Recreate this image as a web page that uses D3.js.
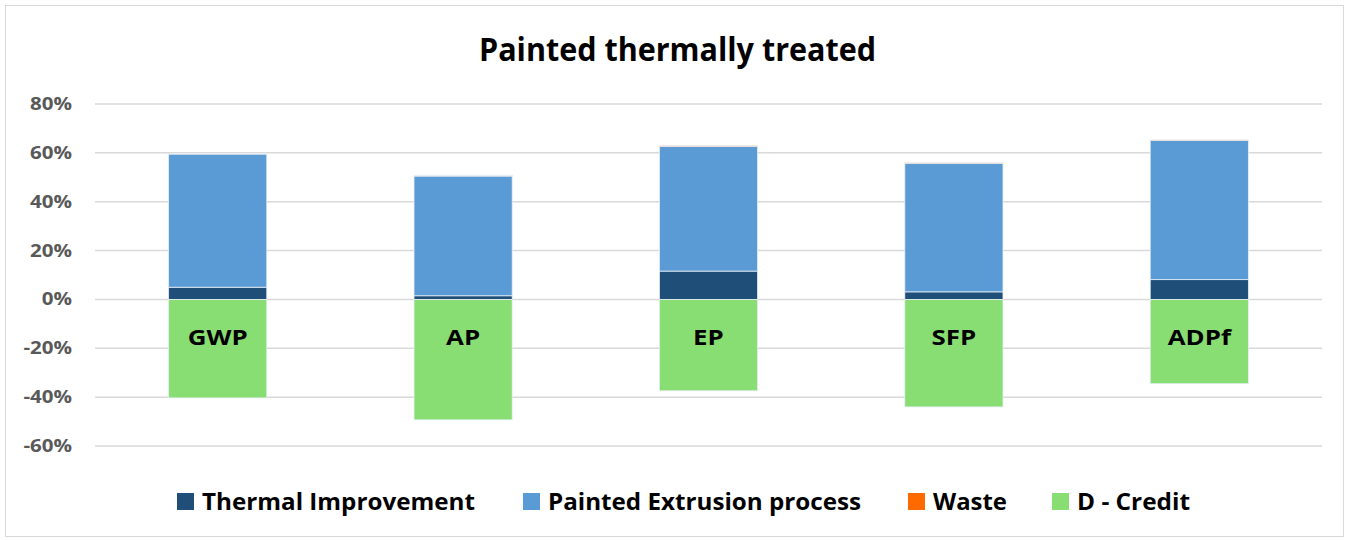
<!DOCTYPE html>
<html><head><meta charset="utf-8">
<script src="https://cdn.jsdelivr.net/npm/d3@7"></script>
<style>body{margin:0;background:#fff}svg{display:block}text{font-family:"Open Sans",Lato,sans-serif;font-weight:bold}</style>
</head><body>
<svg id="c" width="1349" height="540"></svg>
<script>
const categories = ["GWP","AP","EP","SFP","ADPf"];
const thermal = [5.0, 1.5, 11.6, 3.1, 8.1];
const painted = [54.5, 49.0, 51.0, 52.6, 57.0];
const waste = [0.3, 0.3, 0.3, 0.2, 0.2];
const credit = [-40.3, -49.3, -37.4, -44.0, -34.5];
const yTicks = [-60,-40,-20,0,20,40,60,80];
const seriesNames = ["Thermal Improvement","Painted Extrusion process","Waste","D - Credit"];
const colors = ["#1f4e79","#5b9bd5","#ff6a00","#88de72"];

const svg = d3.select("#c");
svg.append("rect").attr("x",5.5).attr("y",5.5).attr("width",1338).attr("height",531)
  .attr("fill","#fff").attr("stroke","#d9d9d9").attr("stroke-width",1);

const x = d3.scaleBand().domain(categories).range([95,1322]).paddingInner(0.6).paddingOuter(0.3);
const y = d3.scaleLinear().domain([-60,80]).range([446,104]);

function fit(sel, target){ // stretch text to target width
  sel.each(function(){ const w=this.getComputedTextLength(); if(w>0) d3.select(this).attr("textLength",target).attr("lengthAdjust","spacingAndGlyphs"); });
}
function scaleBy(sel, f){
  sel.each(function(){ const w=this.getComputedTextLength(); d3.select(this).attr("textLength",w*f).attr("lengthAdjust","spacingAndGlyphs"); });
}

// gridlines
svg.append("g").selectAll("line").data(yTicks).join("line")
  .attr("x1",95).attr("x2",1322).attr("y1",d=>y(d)).attr("y2",d=>y(d))
  .attr("stroke","#d9d9d9").attr("stroke-width",1.5);

// y axis labels
const yAxis = d3.axisLeft(y).tickValues(yTicks).tickFormat(d=>d+"%").tickSize(0).tickPadding(0);
const ga = svg.append("g").attr("transform","translate(72,0)").call(yAxis);
ga.select(".domain").remove();
const yl = ga.selectAll("text").attr("fill","#595959").style("font-size","17px")
  .style("font-family","'Open Sans',sans-serif").style("font-weight","bold");
let w80 = 0; yl.each(function(d){ if(d===80) w80=this.getComputedTextLength(); });
scaleBy(yl, 42/w80);

// stacked data
const rows = categories.map((c,i)=>({cat:c, s0:thermal[i], s1:painted[i], s2:waste[i], s3:credit[i]}));
const stack = d3.stack().keys(["s0","s1","s2","s3"]).offset(d3.stackOffsetDiverging);
const layers = stack(rows);
svg.append("g").selectAll("g").data(layers).join("g")
  .attr("fill",(d,i)=>colors[i])
  .selectAll("rect").data(d=>d).join("rect")
  .attr("x",d=>x(d.data.cat)).attr("width",x.bandwidth())
  .attr("y",d=>y(Math.max(d[0],d[1]))).attr("height",d=>Math.abs(y(d[0])-y(d[1])))
  .attr("stroke","#e6eef6").attr("stroke-width",0.8);

// category labels
const cl = svg.append("g").selectAll("text").data(categories).join("text")
  .attr("x",d=>x(d)+x.bandwidth()/2).attr("y",y(0)+46)
  .attr("text-anchor","middle").attr("fill","#000").style("font-size","22px").text(d=>d);
let wg = 0; cl.each(function(d){ if(d==="GWP") wg=this.getComputedTextLength(); });
scaleBy(cl, 60/wg);

// title
const t = svg.append("text").attr("x",677.5).attr("y",61).attr("text-anchor","middle")
  .style("font-size","33px").attr("fill","#000").text("Painted thermally treated");
fit(t, 397);

// legend
const legX = [177,523,908,1052];
const legW = [273,313,74,113];
const lg = svg.append("g").selectAll("g").data(seriesNames).join("g")
  .attr("transform",(d,i)=>`translate(${legX[i]},0)`);
lg.append("rect").attr("x",0).attr("y",493).attr("width",17).attr("height",17).attr("fill",(d,i)=>colors[i]);
lg.append("text").attr("x",25).attr("y",509.5).style("font-size","23px").attr("fill","#000").text(d=>d)
  .each(function(d,i){ d3.select(this).attr("textLength",legW[i]).attr("lengthAdjust","spacingAndGlyphs"); });
</script>
</body></html>
